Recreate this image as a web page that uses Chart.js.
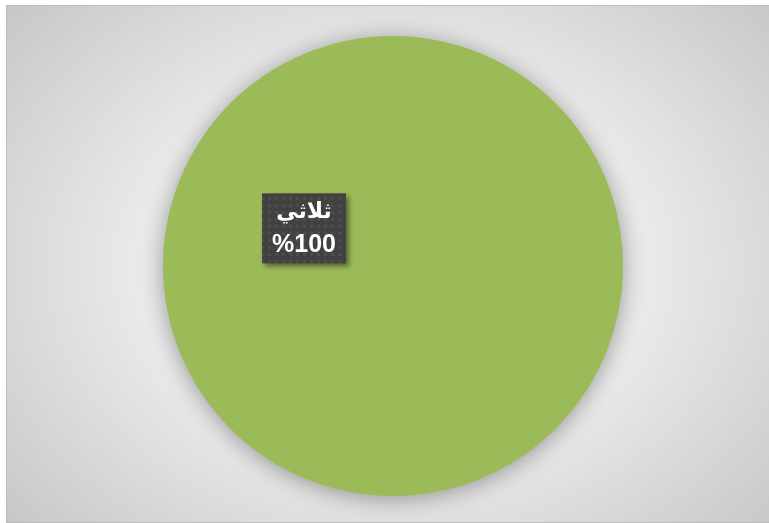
<!DOCTYPE html>
<html>
<head>
<meta charset="utf-8">
<script src="https://cdn.jsdelivr.net/npm/chart.js@4"></script>
<style>
  body { margin: 0; background: #ffffff; }
  #wrap {
    position: absolute; left: 6px; top: 5px; width: 762px; height: 516px;
    border: 1px solid #bdbdbd;
    background: radial-gradient(ellipse 520px 400px at 387px 260px, #f0f0f0 0%, #e9e9e9 50%, #c6c6c6 100%);
  }
  #c { position: absolute; left: 0; top: 0; }
</style>
</head>
<body>
<div id="wrap"><canvas id="c" width="762" height="516"></canvas></div>
<script>
// Dane wykresu
const categories = ['ثلاثي'];
const values = [100];
const colors = ['#9bbb59'];

// Cień pod kołem
const shadowPlugin = {
    id: 'pieShadow',
    beforeDatasetDraw(chart) {
        const ctx = chart.ctx;
        ctx.save();
        ctx.shadowColor = 'rgba(0,0,0,0.35)';
        ctx.shadowBlur = 22;
        ctx.shadowOffsetX = 0;
        ctx.shadowOffsetY = 3;
    },
    afterDatasetDraw(chart) {
        chart.ctx.restore();
    }
};

// Wzór kropek dla tła etykiety
function makePattern(ctx) {
    const p = document.createElement('canvas');
    p.width = 7; p.height = 7;
    const pc = p.getContext('2d');
    pc.fillStyle = '#414141';
    pc.fillRect(0, 0, 7, 7);
    pc.fillStyle = '#4d4d4d';
    pc.fillRect(2, 2, 3, 3);
    return ctx.createPattern(p, 'repeat');
}

// Etykieta danych w ciemnym prostokącie
const labelPlugin = {
    id: 'boxLabel',
    afterDatasetsDraw(chart) {
        const ctx = chart.ctx;
        const meta = chart.getDatasetMeta(0);
        meta.data.forEach((arc, i) => {
            const r = arc.outerRadius;
            const ang = Math.PI + 0.4;
            const cx = arc.x + Math.cos(ang) * r * 0.42;
            const cy = arc.y + Math.sin(ang) * r * 0.42;
            const w = 84, h = 70;
            ctx.save();
            ctx.shadowColor = 'rgba(0,0,0,0.45)';
            ctx.shadowBlur = 5;
            ctx.shadowOffsetX = 3;
            ctx.shadowOffsetY = 3;
            ctx.fillStyle = makePattern(ctx);
            ctx.fillRect(cx - w / 2, cy - h / 2, w, h);
            ctx.restore();
            ctx.save();
            ctx.fillStyle = '#ffffff';
            ctx.textAlign = 'center';
            ctx.textBaseline = 'middle';
            ctx.font = 'bold 22px "DejaVu Sans", sans-serif';
            ctx.direction = 'rtl';
            ctx.fillText(categories[i], cx, cy - 16);
            ctx.direction = 'ltr';
            ctx.font = 'bold 25px "Liberation Sans", Arial, sans-serif';
            ctx.fillText('%' + values[i], cx, cy + 17);
            ctx.restore();
        });
    }
};

const ctxPie = document.getElementById('c').getContext('2d');

const pieChart = new Chart(ctxPie, {
    type: 'pie',
    data: {
        labels: categories,
        datasets: [{
            data: values,
            backgroundColor: colors,
            borderWidth: 0
        }]
    },
    options: {
        responsive: false,
        animation: false,
        layout: { padding: { top: 30, bottom: 26, left: 12, right: 2 } },
        plugins: {
            legend: { display: false },
            tooltip: { enabled: false }
        }
    },
    plugins: [shadowPlugin, labelPlugin]
});
</script>
</body>
</html>
